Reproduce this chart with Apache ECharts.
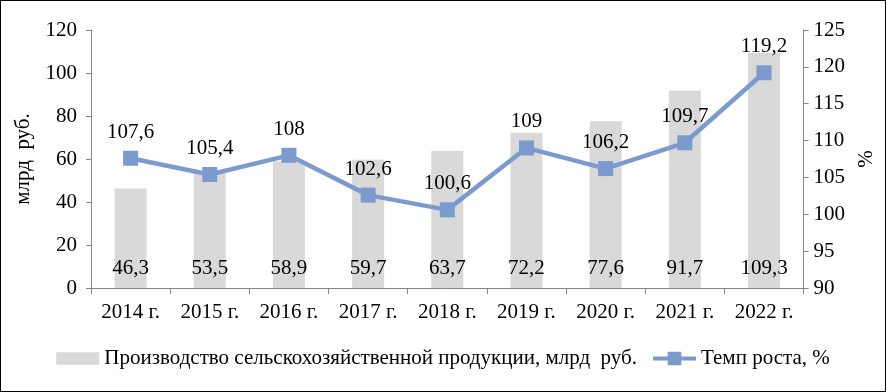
<!DOCTYPE html>
<html>
<head>
<meta charset="utf-8">
<script src="https://cdn.jsdelivr.net/npm/echarts@6/dist/echarts.min.js"></script>
<style>
  html, body { margin: 0; padding: 0; background: #fff; }
  #chart { width: 884px; height: 390px; border: 1px solid #000; }
</style>
</head>
<body>
<div id="chart"></div>
<script>
var years = ['2014 г.', '2015 г.', '2016 г.', '2017 г.', '2018 г.', '2019 г.', '2020 г.', '2021 г.', '2022 г.']
var production = [46.3, 53.5, 58.9, 59.7, 63.7, 72.2, 77.6, 91.7, 109.3]
var growth = [107.6, 105.4, 108, 102.6, 100.6, 109, 106.2, 109.7, 119.2]

var myChart = echarts.init(document.getElementById('chart'));
var font = 'Liberation Serif, Times New Roman, serif'
var fs = 21
function comma(v) {
	return String(v).replace('.', ',')
}

var option = {
	backgroundColor: '#fff',
	textStyle: { fontFamily: font },
	grid: { left: 90, right: 67, top: 29, bottom: 103 },
	legend: {
		top: 342,
		left: 'center',
		itemGap: 16,
		itemWidth: 43,
		itemHeight: 14,
		textStyle: { fontFamily: font, fontSize: fs, color: '#000' },
		data: [
			{ name: 'Производство сельскохозяйственной продукции, млрд  руб.', icon: 'path://M0,0 L42,0 L42,12 L0,12 Z' },
			// line with square marker in the middle
			{ name: 'Темп роста, %', icon: 'path://M0,5 L15,5 L15,0 L29,0 L29,5 L44,5 L44,9 L29,9 L29,14 L15,14 L15,9 L0,9 Z' }
		]
	},
	xAxis: {
		type: 'category',
		data: years,
		axisLine: { lineStyle: { color: '#868686' } },
		axisTick: { show: true, alignWithLabel: false, length: 6, lineStyle: { color: '#868686' } },
		axisLabel: { color: '#000', fontSize: fs, fontFamily: font, margin: 14 }
	},
	yAxis: [
		{
			type: 'value',
			min: 0, max: 120, interval: 20,
			name: 'млрд  руб.',
			nameLocation: 'middle',
			nameGap: 57,
			nameRotate: 90,
			nameTextStyle: { color: '#000', fontSize: fs, fontFamily: font },
			axisLine: { show: true, lineStyle: { color: '#868686' } },
			axisTick: { show: true, length: 5, lineStyle: { color: '#868686' } },
			axisLabel: { color: '#000', fontSize: fs, fontFamily: font, margin: 14 },
			splitLine: { show: false }
		},
		{
			type: 'value',
			min: 90, max: 125, interval: 5,
			name: '%',
			nameLocation: 'middle',
			nameGap: 46,
			nameRotate: 90,
			nameTextStyle: { color: '#000', fontSize: fs, fontFamily: font },
			axisLine: { show: true, lineStyle: { color: '#868686' } },
			axisTick: { show: true, length: 5, lineStyle: { color: '#868686' } },
			axisLabel: { color: '#000', fontSize: fs, fontFamily: font, margin: 10 },
			splitLine: { show: false }
		}
	],
	series: [
		{
			name: 'Производство сельскохозяйственной продукции, млрд  руб.',
			type: 'bar',
			yAxisIndex: 0,
			barWidth: 32,
			itemStyle: { color: '#d9d9d9' },
			label: {
				show: true,
				position: 'insideBottom',
				distance: 9,
				color: '#000',
				fontSize: fs,
				fontFamily: font,
				formatter: function (p) { return comma(p.value) }
			},
			data: production
		},
		{
			name: 'Темп роста, %',
			type: 'line',
			yAxisIndex: 1,
			symbol: 'rect',
			symbolSize: 15,
			lineStyle: { color: '#7b9bcf', width: 4.5 },
			itemStyle: { color: '#7b9bcf' },
			label: {
				show: true,
				position: 'top',
				distance: 8,
				color: '#000',
				fontSize: fs,
				fontFamily: font,
				formatter: function (p) { return comma(p.value) }
			},
			data: growth
		}
	]
};

myChart.setOption(option, true)
</script>
</body>
</html>
